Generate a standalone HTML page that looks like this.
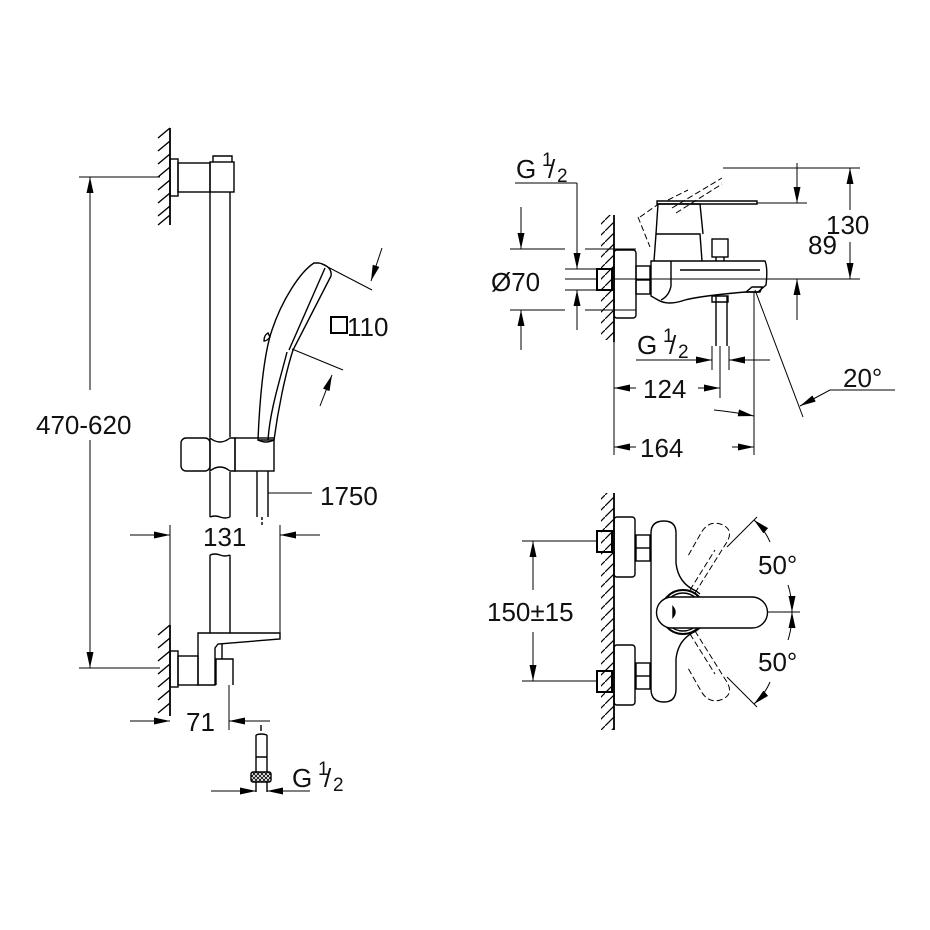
<!DOCTYPE html>
<html><head><meta charset="utf-8"><style>
html,body{margin:0;padding:0;background:#fff}
svg{display:block}
text{font-family:"Liberation Sans",sans-serif;fill:#111}
</style></head><body>
<svg width="930" height="930" viewBox="0 0 930 930" xmlns="http://www.w3.org/2000/svg">
<defs>
<marker id="b" viewBox="0 0 16 7" refX="16" refY="3.5" markerWidth="16" markerHeight="7" orient="auto-start-reverse" markerUnits="userSpaceOnUse"><path d="M0,0L16,3.5L0,7z" fill="#000"/></marker>
<pattern id="h" width="11" height="11" patternUnits="userSpaceOnUse"><path d="M0,11L11,0" stroke="#000" stroke-width="1.2"/></pattern>
<pattern id="k" width="4" height="4" patternUnits="userSpaceOnUse"><path d="M0,4L4,0M0,0L4,4" stroke="#000" stroke-width="0.8"/></pattern>
</defs>
<g fill="none" stroke="#000" stroke-width="1.4">
<!-- LEFT: shower rail -->
<line x1="170" y1="128" x2="170" y2="225" stroke-width="1.8"/>
<path d="M158,138l12,-10M158,151l12,-10M158,164l12,-10M158,177l12,-10M158,190l12,-10M158,203l12,-10M158,216l12,-10M158,225l12,-10"/>
<rect x="170" y="159" width="8" height="37"/>
<rect x="178" y="163" width="32" height="29"/>
<rect x="210" y="162" width="24" height="30"/>
<path d="M213,162v-6h19v6"/>
<line x1="210" y1="192" x2="210" y2="437"/>
<line x1="230" y1="192" x2="230" y2="437"/>
<path d="M210,472v45M230,472v45M210,517q5,-2 10,0t10,0"/>
<path d="M210,555q5,-2 10,0t10,0M210,555v78M230,555v78"/>
<!-- slider -->
<rect x="181" y="438" width="29" height="33" rx="5"/>
<path d="M210,438q10,8 20,0l5,0v33h-5q-10,-8 -20,0z"/>
<rect x="235" y="438" width="39" height="33"/>
<path d="M257,471v46M268,471v46"/>
<line x1="262" y1="517" x2="262" y2="525" stroke-dasharray="3,2"/>
<!-- handshower -->
<path d="M258,440 C260,390 265,350 272,330 C282,300 300,272 314,263 L319,263 C328,265 332,270 331,276 L293,350 C285,375 278,410 274,440 Z"/>
<path d="M325,268 L289,350"/>
<path d="M287,352 C280,380 270,410 268,440"/>
<path d="M268,333 q-4,2 -4,8 q3,0 6,-4z"/>
<path d="M258,440 q8,4 16,0"/>
<!-- 110 dims -->
<line x1="322" y1="264" x2="372" y2="290" stroke-width="1"/>
<line x1="382" y1="248" x2="371" y2="281" marker-end="url(#b)" stroke-width="1"/>
<line x1="292" y1="349" x2="343" y2="370" stroke-width="1"/>
<line x1="320" y1="406" x2="332" y2="375" marker-end="url(#b)" stroke-width="1"/>
<rect x="331" y="317" width="16" height="16" stroke-width="2"/>
<!-- 1750 leader -->
<line x1="268" y1="493" x2="312" y2="493" stroke-width="1"/>
<!-- 470-620 -->
<line x1="79" y1="177" x2="160" y2="177" stroke-width="1"/>
<line x1="79" y1="668" x2="160" y2="668" stroke-width="1"/>
<line x1="90" y1="177" x2="90" y2="390" marker-start="url(#b)" stroke-width="1"/>
<line x1="90" y1="440" x2="90" y2="668" marker-end="url(#b)" stroke-width="1"/>
<!-- 131 -->
<line x1="170" y1="525" x2="170" y2="625" stroke-width="1"/>
<line x1="280" y1="525" x2="280" y2="636" stroke-width="1"/>
<line x1="130" y1="535" x2="170" y2="535" marker-end="url(#b)" stroke-width="1"/>
<line x1="320" y1="535" x2="280" y2="535" marker-end="url(#b)" stroke-width="1"/>
<!-- bottom bracket -->
<line x1="170" y1="625" x2="170" y2="716" stroke-width="1.8"/>
<path d="M158,635l12,-10M158,648l12,-10M158,661l12,-10M158,674l12,-10M158,687l12,-10M158,700l12,-10M158,713l12,-10"/>
<rect x="170" y="651" width="8" height="36"/>
<rect x="178" y="656" width="20" height="29"/>
<path d="M198,685v-52h82v6l-62,5l-3,4v37z"/>
<path d="M216,685v-26h17v26M222,644v15"/>
<line x1="229" y1="685" x2="229" y2="730" stroke-width="1"/>
<!-- 71 -->
<line x1="130" y1="721" x2="170" y2="721" marker-end="url(#b)" stroke-width="1"/>
<line x1="270" y1="721" x2="229" y2="721" marker-end="url(#b)" stroke-width="1"/>
<!-- fitting -->
<path d="M261,725v6"/>
<path d="M256,735v37M267,735v37M256,735q5,-2 11,0M256,757h11"/>
<rect x="251" y="772" width="20" height="10" rx="2" fill="url(#k)"/>
<path d="M256,782v10M267,782v10"/>
<line x1="211" y1="791" x2="256" y2="791" marker-end="url(#b)" stroke-width="1"/>
<line x1="310" y1="791" x2="267" y2="791" marker-end="url(#b)" stroke-width="1"/>

<!-- RIGHT UPPER -->
<rect x="601" y="215" width="13" height="125" fill="url(#h)" stroke="none"/>
<line x1="614" y1="215" x2="614" y2="342" stroke-width="1.8"/>
<rect x="614" y="250" width="22" height="68" rx="3"/>
<rect x="597" y="269" width="15" height="21" stroke-width="2"/>
<rect x="636" y="266" width="14" height="28"/>
<line x1="636" y1="280" x2="650" y2="280"/>
<path d="M651,261 H765 Q768,268 766,285 L758,292 L745,292 Q700,296 685,300 Q668,306 658,300 L651,296 Z"/>
<line x1="680" y1="270" x2="760" y2="270"/>
<path d="M671,261 v25 q-2,10 -10,14"/>
<path d="M654,261 L656,234 H700 L702,261"/>
<path d="M656,234 L658,204 H700 L703,234"/>
<path d="M657,204 H757 v-3 H657z"/>
<rect x="712" y="239" width="16" height="18"/>
<path d="M716,257v4M724,257v4"/>
<path d="M746,292 l6,-5 h10 l-2,5 z"/>
<path d="M716,296 v50 M727,296 v50 M712,296 h16 v6 h-16z"/>
<path d="M638,217 L650,247 M640,217 L660,203 M668,200 L688,190 M672,208 L722,178 M676,213 L722,184" stroke-dasharray="6,3" stroke-width="1"/>
<!-- 89 / 130 -->
<line x1="723" y1="168" x2="860" y2="168" stroke-width="1"/>
<line x1="757" y1="203" x2="807" y2="203" stroke-width="1"/>
<line x1="614" y1="279" x2="860" y2="279" stroke-width="1"/>
<line x1="797" y1="163" x2="797" y2="203" marker-end="url(#b)" stroke-width="1"/>
<line x1="797" y1="320" x2="797" y2="279" marker-end="url(#b)" stroke-width="1"/>
<line x1="850" y1="210" x2="850" y2="168" marker-end="url(#b)" stroke-width="1"/>
<line x1="850" y1="242" x2="850" y2="279" marker-end="url(#b)" stroke-width="1"/>
<!-- O70 -->
<line x1="510" y1="249" x2="565" y2="249" stroke-width="1"/>
<line x1="510" y1="310" x2="565" y2="310" stroke-width="1"/>
<line x1="585" y1="249" x2="636" y2="249" stroke-width="1"/>
<line x1="585" y1="310" x2="636" y2="310" stroke-width="1"/>
<line x1="521" y1="207" x2="521" y2="249" marker-end="url(#b)" stroke-width="1"/>
<line x1="521" y1="350" x2="521" y2="310" marker-end="url(#b)" stroke-width="1"/>
<line x1="565" y1="269" x2="597" y2="269" stroke-width="1"/>
<line x1="565" y1="290" x2="597" y2="290" stroke-width="1"/>
<line x1="565" y1="279" x2="597" y2="279" stroke-width="1"/>
<line x1="515" y1="183" x2="577" y2="183" stroke-width="1"/>
<line x1="577" y1="183" x2="577" y2="269" marker-end="url(#b)" stroke-width="1"/>
<line x1="577" y1="330" x2="577" y2="290" marker-end="url(#b)" stroke-width="1"/>
<!-- lower G1/2 -->
<line x1="712" y1="346" x2="712" y2="370" stroke-width="1"/>
<line x1="729" y1="346" x2="729" y2="370" stroke-width="1"/>
<line x1="636" y1="360" x2="712" y2="360" marker-end="url(#b)" stroke-width="1"/>
<line x1="770" y1="360" x2="729" y2="360" marker-end="url(#b)" stroke-width="1"/>
<!-- 124 / 164 -->
<line x1="614" y1="342" x2="614" y2="455" stroke-width="1"/>
<line x1="720" y1="346" x2="720" y2="398" stroke-width="1"/>
<line x1="754" y1="292" x2="754" y2="455" stroke-width="1"/>
<line x1="614" y1="388" x2="636" y2="388" marker-start="url(#b)" stroke-width="1"/>
<line x1="698" y1="388" x2="720" y2="388" marker-end="url(#b)" stroke-width="1"/>
<path d="M714,410 q20,2 40,6" marker-end="url(#b)" stroke-width="1"/>
<line x1="614" y1="447" x2="636" y2="447" marker-start="url(#b)" stroke-width="1"/>
<line x1="732" y1="447" x2="754" y2="447" marker-end="url(#b)" stroke-width="1"/>
<!-- 20 deg -->
<line x1="755" y1="290" x2="803" y2="417" stroke-width="1"/>
<path d="M895,390 H830 L800,406" marker-end="url(#b)" stroke-width="1"/>

<!-- RIGHT LOWER -->
<rect x="601" y="493" width="13" height="237" fill="url(#h)" stroke="none"/>
<line x1="614" y1="493" x2="614" y2="730" stroke-width="1.8"/>
<rect x="614" y="517" width="21" height="60" rx="3"/>
<rect x="614" y="645" width="21" height="60" rx="3"/>
<rect x="597" y="531" width="15" height="21" stroke-width="2"/>
<rect x="597" y="671" width="15" height="21" stroke-width="2"/>
<rect x="636" y="535" width="14" height="26"/><line x1="636" y1="548" x2="650" y2="548"/>
<rect x="636" y="663" width="14" height="26"/><line x1="636" y1="676" x2="650" y2="676"/>
<path d="M664,521 q12,0 12,12 v30 q2,20 20,28 l4,3 M664,521 q-13,0 -13,12 v156 q0,13 13,13 q12,0 12,-13 v-30 q2,-20 20,-28 l4,-3"/>
<circle cx="683" cy="612" r="22" stroke-width="2"/>
<circle cx="683" cy="612" r="19"/>
<path d="M672,597 H752 a15,15 0 0 1 0,31 H672 a15,15 0 0 1 0,-31z" fill="#fff"/>
<path d="M673,607 v10 q4,-5 0,-10z" fill="#000"/>
<line x1="767" y1="612" x2="800" y2="612" stroke-width="1"/>
<path d="M695,593 L725,545 q10,-14 -2,-20 q-14,-6 -22,8 L688,556 M690,590 L715,550" stroke-dasharray="6,3" stroke-width="1"/>
<path d="M695,631 L725,679 q10,14 -2,20 q-14,6 -22,-8 L688,668 M690,634 L715,674" stroke-dasharray="6,3" stroke-width="1"/>
<line x1="727" y1="547" x2="757" y2="517" stroke-width="1"/>
<line x1="727" y1="677" x2="757" y2="707" stroke-width="1"/>
<path d="M770,542 q-5,-12 -16,-22" marker-end="url(#b)" stroke-width="1"/>
<path d="M788,585 q4,12 4,27" marker-end="url(#b)" stroke-width="1"/>
<path d="M788,640 q4,-12 4,-28" marker-end="url(#b)" stroke-width="1"/>
<path d="M770,682 q-5,12 -16,22" marker-end="url(#b)" stroke-width="1"/>
<!-- 150 -->
<line x1="522" y1="541" x2="597" y2="541" stroke-width="1"/>
<line x1="522" y1="681" x2="597" y2="681" stroke-width="1"/>
<line x1="533" y1="590" x2="533" y2="541" marker-end="url(#b)" stroke-width="1"/>
<line x1="533" y1="632" x2="533" y2="681" marker-end="url(#b)" stroke-width="1"/>
</g>
<g font-size="26">
<text x="36" y="434">470-620</text>
<text x="347" y="336">110</text>
<text x="320" y="505">1750</text>
<text x="203" y="546">131</text>
<text x="186" y="731">71</text>
<text x="292" y="787">G</text><text x="318" y="775" font-size="19">1</text><text x="324" y="787">/</text><text x="333" y="791" font-size="19">2</text>
<text x="516" y="178">G</text><text x="542" y="166" font-size="19">1</text><text x="548" y="178">/</text><text x="557" y="182" font-size="19">2</text>
<text x="491" y="291">Ø70</text>
<text x="637" y="354">G</text><text x="663" y="342" font-size="19">1</text><text x="669" y="354">/</text><text x="678" y="358" font-size="19">2</text>
<text x="643" y="398">124</text>
<text x="640" y="457">164</text>
<text x="808" y="254">89</text>
<text x="826" y="234">130</text>
<text x="843" y="387">20°</text>
<text x="487" y="621">150±15</text>
<text x="758" y="574">50°</text>
<text x="758" y="671">50°</text>
</g>
</svg>
</body></html>
